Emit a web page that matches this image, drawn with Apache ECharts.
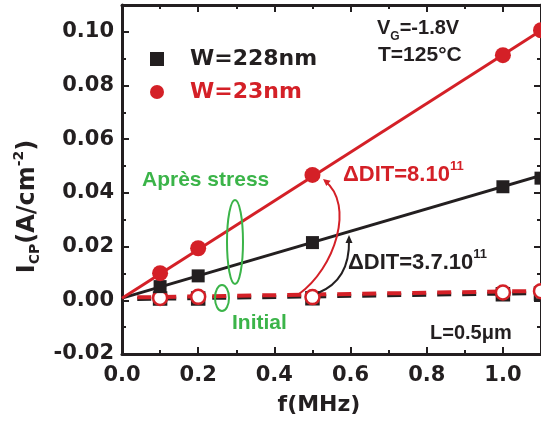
<!DOCTYPE html>
<html><head><meta charset="utf-8">
<script src="https://cdn.jsdelivr.net/npm/echarts@6/dist/echarts.min.js"></script>
<style>html,body{margin:0;padding:0;background:#fff}#c{width:541px;height:426px}</style>
</head><body><div id="c"></div>
<script>
// ---- data ----
const freq = [0.1, 0.2, 0.5, 1.0, 1.1];
const w228After = [0.0051, 0.0091, 0.0215, 0.0423, 0.0455];
const w23After = [0.0101, 0.0194, 0.0467, 0.0913, 0.1006];
const w228Initial = [0.0007, 0.0007, 0.0008, 0.0023, 0.0025];
const w23Initial = [0.0009, 0.0013, 0.0012, 0.0029, 0.0034];
const fitX = [0, 1.1];
const w228AfterFit = [0.0008, 0.0465];
const w23AfterFit = [0.0008, 0.1005];
const initFitX = [0.04, 1.1];
const w228InitialFit = [0.0005, 0.0027];
const w23InitialFit = [0.0011, 0.0035];
const xTickStep = 0.2, yTickStep = 0.02;

const BLACK = '#231f20', RED = '#d42027', GREEN = '#3bb449';
const pairs = (xs, ys) => xs.map((x, i) => [x, ys[i]]);
const labelFont = {fontFamily: 'DejaVu Sans', fontWeight: 'bold', color: BLACK};
const annFont = 'Liberation Sans, Arial, sans-serif';

function xAx(pos, main) {
  return {
    type: 'value', min: 0, max: 1.1, interval: main ? xTickStep : xTickStep / 2, position: pos,
    axisLine: {show: main, onZero: false, lineStyle: {color: BLACK, width: 3}},
    axisTick: {show: true, inside: true, length: main ? 7 : 4, lineStyle: {color: BLACK, width: 2}},
    axisLabel: {show: false},
    splitLine: {show: false}
  };
}
function yAx(pos, main) {
  return {
    type: 'value', min: -0.02, max: 0.11, interval: main ? yTickStep : yTickStep / 2, position: pos,
    axisLine: {show: main, onZero: false, lineStyle: {color: BLACK, width: 3}},
    axisTick: {show: true, inside: true, length: main ? 7 : 4, lineStyle: {color: BLACK, width: 2}},
    axisLabel: {show: false},
    splitLine: {show: false}
  };
}
const xMain = xAx('bottom', true);
xMain.axisLabel = Object.assign({show: true, showMaxLabel: false, fontSize: 21, margin: 11,
  formatter: v => v.toFixed(1)}, labelFont);
xMain.name = 'f(MHz)';
xMain.nameLocation = 'middle';
xMain.nameGap = 38;
xMain.nameTextStyle = Object.assign({fontSize: 22, lineHeight: 26, padding: [0, 25, 0, 0]}, labelFont);

const yMain = yAx('left', true);
yMain.axisLabel = Object.assign({show: true, showMaxLabel: false, fontSize: 21, margin: 8,
  formatter: v => v.toFixed(2)}, labelFont);
yMain.name = '{m|I}{s|CP}{m|(A/cm}{p|-2}{m|)}';
yMain.nameLocation = 'middle';
yMain.nameGap = 70;
yMain.nameTextStyle = {
  padding: [0, 54, 0, 0],
  rich: {
    m: Object.assign({fontSize: 24, lineHeight: 30}, labelFont),
    s: Object.assign({fontSize: 14, lineHeight: 12, verticalAlign: 'bottom'}, labelFont),
    p: Object.assign({fontSize: 14, lineHeight: 12, verticalAlign: 'top'}, labelFont)
  }
};

function annText(x, y, text, color, size) {
  const rich = {
    m: {fontSize: size, fontWeight: 'bold', fontFamily: annFont, fill: color, lineHeight: 30},
    p: {fontSize: 13, fontWeight: 'bold', fontFamily: annFont, fill: color, lineHeight: 10, verticalAlign: 'top'},
    s: {fontSize: 12, fontWeight: 'bold', fontFamily: annFont, fill: color, lineHeight: 10, verticalAlign: 'bottom'}
  };
  return {type: 'text', x: x, y: y, z: 100,
    style: {text: text, rich: rich, fill: color, align: 'left', verticalAlign: 'middle',
      font: 'bold ' + size + 'px ' + annFont}};
}

const option = {
  animation: false,
  backgroundColor: '#fff',
  grid: {left: 122, right: -6, top: 5, bottom: 72, containLabel: false},
  xAxis: [xMain, xAx('top', true), xAx('bottom', false), xAx('top', false)],
  yAxis: [yMain, yAx('right', true), yAx('left', false), yAx('right', false)],
  legend: {
    left: 145, top: 41, orient: 'vertical', itemGap: 7, itemWidth: 14, itemHeight: 14,
    selectedMode: false,
    textStyle: Object.assign({fontSize: 22, lineHeight: 26, padding: [0, 0, 0, 21]}, labelFont),
    data: [
      {name: 'W=228nm', icon: 'rect', textStyle: {color: BLACK}},
      {name: 'W=23nm', icon: 'circle', textStyle: {color: RED}}
    ]
  },
  series: [
    {type: 'line', name: 'W=228nm initial fit', data: pairs(initFitX, w228InitialFit), symbol: 'none',
      lineStyle: {color: BLACK, width: 4, type: [14, 11]}, z: 2},
    {type: 'scatter', name: 'W=228nm initial', data: pairs(freq, w228Initial), symbol: 'rect', symbolSize: 12,
      itemStyle: {color: '#fff', borderColor: BLACK, borderWidth: 2.5, opacity: 1}, z: 3},
    {type: 'line', name: 'W=23nm initial fit', data: pairs(initFitX, w23InitialFit), symbol: 'none',
      lineStyle: {color: RED, width: 4, type: [14, 11]}, z: 4},
    {type: 'scatter', name: 'W=23nm initial', data: pairs(freq, w23Initial), symbol: 'circle', symbolSize: 14,
      itemStyle: {color: '#fff', borderColor: RED, borderWidth: 2.5, opacity: 1}, z: 5},
    {type: 'line', name: 'W=228nm fit', data: pairs(fitX, w228AfterFit), symbol: 'none',
      lineStyle: {color: BLACK, width: 3}, z: 6},
    {type: 'line', name: 'W=23nm fit', data: pairs(fitX, w23AfterFit), symbol: 'none',
      lineStyle: {color: RED, width: 3}, z: 7},
    {type: 'scatter', name: 'W=228nm', data: pairs(freq, w228After), symbol: 'rect', symbolSize: 13,
      itemStyle: {color: BLACK, opacity: 1}, z: 8},
    {type: 'scatter', name: 'W=23nm', data: pairs(freq, w23After), symbol: 'circle', symbolSize: 16,
      itemStyle: {color: RED, opacity: 1}, z: 9}
  ],
  graphic: [
    annText(377, 28, '{m|V}{s|G}{m|=-1.8V}', BLACK, 20),
    annText(378, 55, '{m|T=125°C}', BLACK, 21),
    annText(142, 180, '{m|Après stress}', GREEN, 21),
    annText(232, 323, '{m|Initial}', GREEN, 21),
    annText(343, 175, '{m|ΔDIT=8.10}{p|11}', RED, 22),
    annText(348, 263, '{m|ΔDIT=3.7.10}{p|11}', BLACK, 22),
    annText(430, 333, '{m|L=0.5μm}', BLACK, 20),
    {type: 'ellipse', z: 100, shape: {cx: 235, cy: 242, rx: 8, ry: 42},
      style: {fill: 'none', stroke: GREEN, lineWidth: 2}},
    {type: 'ellipse', z: 100, shape: {cx: 222, cy: 298, rx: 7, ry: 13},
      style: {fill: 'none', stroke: GREEN, lineWidth: 2}},
    {type: 'bezierCurve', z: 100, shape: {x1: 299, y1: 294, cpx1: 335, cpy1: 268, cpx2: 355, cpy2: 205, x2: 325, y2: 181},
      style: {fill: 'none', stroke: RED, lineWidth: 2}},
    {type: 'polygon', z: 100, shape: {points: [[323, 179], [330.7, 180.7], [326.3, 186.1]]},
      style: {fill: RED}},
    {type: 'bezierCurve', z: 100, shape: {x1: 318, y1: 293, cpx1: 350, cpy1: 280, x2: 349, y2: 240},
      style: {fill: 'none', stroke: BLACK, lineWidth: 2}},
    {type: 'polygon', z: 100, shape: {points: [[349, 235], [345.5, 243], [352.5, 243]]},
      style: {fill: BLACK}}
  ]
};
const chart = echarts.init(document.getElementById('c'), null, {renderer: 'canvas'});
chart.setOption(option);
</script></body></html>
